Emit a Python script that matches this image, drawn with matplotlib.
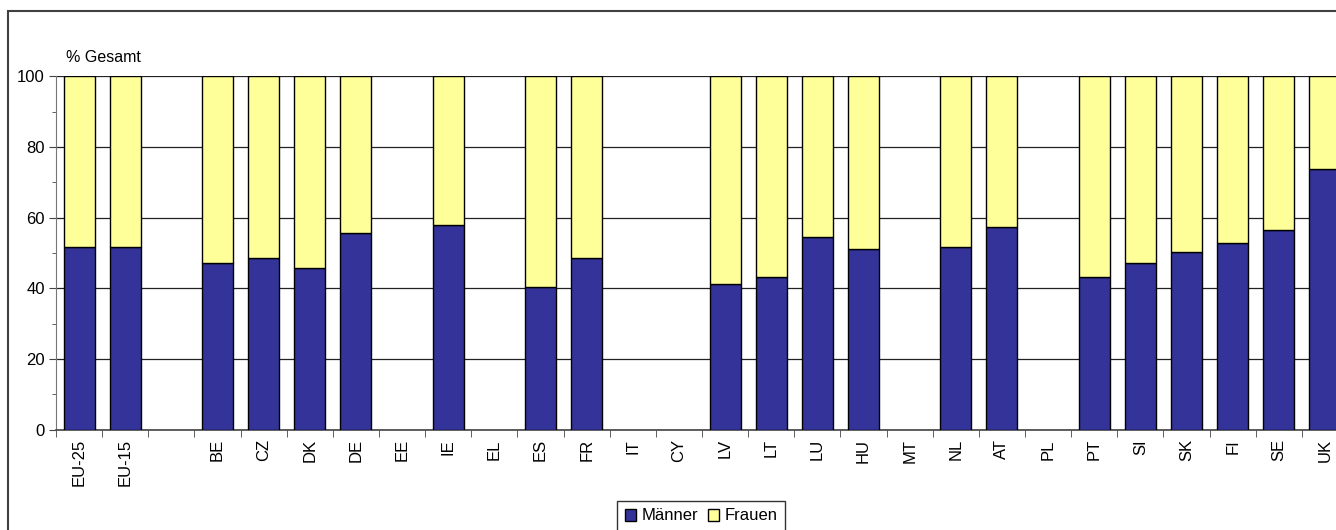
import matplotlib.pyplot as plt
import numpy as np
from matplotlib.patches import Rectangle, Patch
from matplotlib.ticker import MultipleLocator

plt.rcParams['font.family'] = ['Liberation Sans', 'DejaVu Sans']

# categories (empty string = gap after EU-15)
laender = ['EU-25', 'EU-15', '', 'BE', 'CZ', 'DK', 'DE', 'EE', 'IE', 'EL', 'ES',
           'FR', 'IT', 'CY', 'LV', 'LT', 'LU', 'HU', 'MT', 'NL', 'AT', 'PL',
           'PT', 'SI', 'SK', 'FI', 'SE', 'UK']
nan = np.nan
maenner = [51.6, 51.6, nan, 47.1, 48.6, 45.7, 55.7, nan, 57.8, nan, 40.3,
           48.6, nan, nan, 41.2, 43.3, 54.5, 51.2, nan, 51.6, 57.3, nan,
           43.3, 47.1, 50.3, 52.8, 56.5, 73.8]
frauen = [48.4, 48.4, nan, 52.9, 51.4, 54.3, 44.3, nan, 42.2, nan, 59.7,
          51.4, nan, nan, 58.8, 56.7, 45.5, 48.8, nan, 48.4, 42.7, nan,
          56.7, 52.9, 49.7, 47.2, 43.5, 26.2]

blau = '#333399'
gelb = '#FFFF99'

fig = plt.figure(figsize=(13.36, 5.30), dpi=100)
# outer chart frame (cut at right/bottom like the reference)
fig.patches.append(Rectangle((8 / 1336, -0.1), 1.2, 1 - 11 / 530 + 0.1,
                             transform=fig.transFigure, fill=False,
                             edgecolor='#404040', linewidth=1.5))

ax = fig.add_axes([56 / 1336, 1 - 429.5 / 530, 1292 / 1336, 353.2 / 530])
x = np.arange(len(laender))
m = np.nan_to_num(maenner)
f = np.nan_to_num(frauen)
ok = ~np.isnan(maenner)
ax.bar(x[ok], m[ok], width=0.67, color=blau, edgecolor='black', linewidth=1,
       zorder=3)
ax.bar(x[ok], f[ok], bottom=m[ok], width=0.67, color=gelb, edgecolor='black',
       linewidth=1, zorder=3)

ax.set_xlim(-0.5, len(laender) - 0.5)
ax.set_ylim(0, 100)
ax.yaxis.set_major_locator(MultipleLocator(20))
ax.yaxis.set_minor_locator(MultipleLocator(10))
ax.grid(axis='y', which='major', color='#222222', linewidth=0.9, zorder=0)
ax.tick_params(axis='y', which='major', length=5, labelsize=12, pad=3,
               color='#444444')
ax.tick_params(axis='y', which='minor', length=3, color='#444444')

ax.set_xticks(x)
ax.set_xticklabels(laender, rotation=90, fontsize=12)
ax.tick_params(axis='x', which='major', length=0, pad=7)
ax.set_xticks(np.arange(len(laender) + 1) - 0.5, minor=True)
ax.tick_params(axis='x', which='minor', length=5, color='#444444')

for s in ['top', 'right']:
    ax.spines[s].set_visible(False)
ax.spines['left'].set_color('#777777')
ax.spines['bottom'].set_color('#444444')
ax.spines['bottom'].set_linewidth(1.2)

fig.text(66 / 1336, 1 - 57 / 530, '% Gesamt', fontsize=11.5, va='center')

handles = [Patch(facecolor=blau, edgecolor='black', label='Männer'),
           Patch(facecolor=gelb, edgecolor='black', label='Frauen')]
fig.legend(handles=handles, loc='upper center', ncol=2,
           bbox_to_anchor=(701 / 1336, 1 - 501 / 530), fontsize=12,
           frameon=True, fancybox=False, edgecolor='black',
           handlelength=0.7, handleheight=0.7, handletextpad=0.3,
           columnspacing=0.6, borderpad=0.45, borderaxespad=0)

fig.savefig('out.png', dpi=100)
